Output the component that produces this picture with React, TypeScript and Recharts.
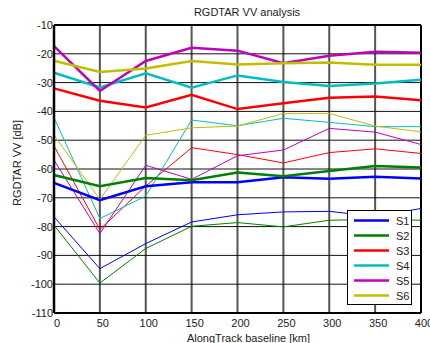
import {
  LineChart,
  Line,
  XAxis,
  YAxis,
  CartesianGrid,
  ReferenceLine,
} from 'recharts';

const BASELINE = [0, 50, 100, 150, 200, 250, 300, 350, 400];

// thick lines (named in legend)
const S1 = [-64.8, -70.8, -66.0, -64.6, -64.6, -62.9, -63.4, -62.7, -63.3];
const S2 = [-62.1, -66.0, -63.1, -63.9, -61.2, -62.5, -60.7, -59.0, -59.5];
const S3 = [-32.0, -36.3, -38.6, -34.2, -39.2, -37.2, -35.3, -34.8, -36.1];
const S4 = [-26.6, -31.7, -26.8, -31.8, -27.5, -29.8, -31.2, -30.3, -29.0];
const S5 = [-17.3, -32.9, -22.5, -17.9, -18.9, -23.3, -20.7, -19.3, -19.6];
const S6 = [-22.4, -26.3, -25.1, -22.5, -23.7, -23.3, -23.0, -23.8, -23.8];

// thin lines (same colours, not in legend)
const S1_THIN = [-76.6, -94.6, -85.9, -78.4, -75.9, -74.9, -74.7, -76.5, -73.7];
const S2_THIN = [-79.5, -99.6, -87.6, -79.9, -78.6, -80.1, -77.8, -77.5, -77.8];
const S3_THIN = [-52.0, -81.0, -65.9, -52.6, -55.0, -57.9, -54.3, -53.0, -54.6];
const S4_THIN = [-42.1, -77.2, -69.4, -43.0, -45.0, -42.4, -43.8, -45.3, -45.3];
const S5_THIN = [-56.9, -82.4, -58.7, -63.6, -55.4, -53.4, -45.9, -47.2, -51.5];
const S6_THIN = [-48.2, -70.6, -48.3, -45.7, -45.1, -40.7, -40.7, -45.1, -47.1];

const Y_TICKS = [-110, -100, -90, -80, -70, -60, -50, -40, -30, -20, -10];

const SERIES = [
  { key: 's1', thin: 's1t', label: 'S1', color: '#0000ff', values: S1, thinValues: S1_THIN },
  { key: 's2', thin: 's2t', label: 'S2', color: '#008000', values: S2, thinValues: S2_THIN },
  { key: 's3', thin: 's3t', label: 'S3', color: '#ff0000', values: S3, thinValues: S3_THIN },
  { key: 's4', thin: 's4t', label: 'S4', color: '#00bfbf', values: S4, thinValues: S4_THIN },
  { key: 's5', thin: 's5t', label: 'S5', color: '#bf00bf', values: S5, thinValues: S5_THIN },
  { key: 's6', thin: 's6t', label: 'S6', color: '#bfbf00', values: S6, thinValues: S6_THIN },
];

const FONT = '"Liberation Sans", Arial, sans-serif';

function LegendBox() {
  return (
    <div
      style={{
        position: 'absolute',
        left: 347,
        top: 210,
        width: 63,
        height: 93,
        border: '1px solid #000',
        background: '#fff',
        fontFamily: FONT,
        fontSize: 11,
        color: '#222',
      }}
    >
      {SERIES.map((s, i) => (
        <div
          key={s.key}
          style={{ position: 'absolute', left: 0, top: 2 + i * 15, height: 15, display: 'flex', alignItems: 'center' }}
        >
          <svg width={48} height={15} style={{ display: 'block' }}>
            <line x1={6} x2={41} y1={7.5} y2={7.5} stroke={s.color} strokeWidth={2.5} />
          </svg>
          <span>{s.label}</span>
        </div>
      ))}
    </div>
  );
}

export default function App() {
  const data = BASELINE.map((x, i) => {
    const row: Record<string, number> = { x };
    SERIES.forEach((s) => {
      row[s.key] = s.values[i];
      row[s.thin] = s.thinValues[i];
    });
    return row;
  });

  return (
    <div style={{ position: 'absolute', left: 0, top: 0, width: 430, height: 343, background: '#fff', overflow: 'hidden' }}>
      <div
        style={{
          position: 'absolute',
          left: 147,
          top: 6,
          width: 200,
          textAlign: 'center',
          fontFamily: FONT,
          fontSize: 11,
          lineHeight: '13px',
          color: '#222',
        }}
      >
        RGDTAR VV analysis
      </div>
      <LineChart width={430} height={343} data={data} margin={{ top: 25, right: 9, bottom: 0, left: 10 }}>
        <CartesianGrid horizontal={false} stroke="#555" strokeWidth={2} />
        <CartesianGrid vertical={false} stroke="#111" strokeWidth={1} />
        <XAxis
          dataKey="x"
          type="number"
          domain={[0, 400]}
          ticks={BASELINE}
          height={30}
          stroke="#000"
          strokeWidth={2}
          tickLine={false}
          tickSize={0}
          tickMargin={6}
          dx={3}
          tick={{ fill: '#222', fontSize: 11, fontFamily: FONT }}
          label={{
            value: 'AlongTrack baseline [km]',
            position: 'insideBottom',
            offset: 1,
            dx: 11,
            style: { fill: '#222', fontSize: 11, fontFamily: FONT },
          }}
        />
        <YAxis
          type="number"
          domain={[-110, -10]}
          ticks={Y_TICKS}
          width={44}
          stroke="#000"
          strokeWidth={2.5}
          tickLine={false}
          tickSize={0}
          tickMargin={1}
          interval={0}
          tick={{ fill: '#222', fontSize: 11, fontFamily: FONT }}
          label={{
            value: 'RGDTAR VV [dB]',
            angle: -90,
            position: 'insideLeft',
            dx: 2,
            dy: -6,
            style: { fill: '#222', fontSize: 11, fontFamily: FONT, textAnchor: 'middle' },
          }}
        />
        <ReferenceLine y={-10} stroke="#000" strokeWidth={2} />
        <ReferenceLine x={400} stroke="#000" strokeWidth={2} />
        {SERIES.map((s) => (
          <Line
            key={s.thin}
            dataKey={s.thin}
            type="linear"
            stroke={s.color}
            strokeWidth={1}
            dot={false}
            activeDot={false}
            legendType="none"
            isAnimationActive={false}
          />
        ))}
        {SERIES.map((s) => (
          <Line
            key={s.key}
            dataKey={s.key}
            name={s.label}
            type="linear"
            stroke={s.color}
            strokeWidth={2.5}
            dot={false}
            activeDot={false}
            isAnimationActive={false}
          />
        ))}
      </LineChart>
      <LegendBox />
    </div>
  );
}
